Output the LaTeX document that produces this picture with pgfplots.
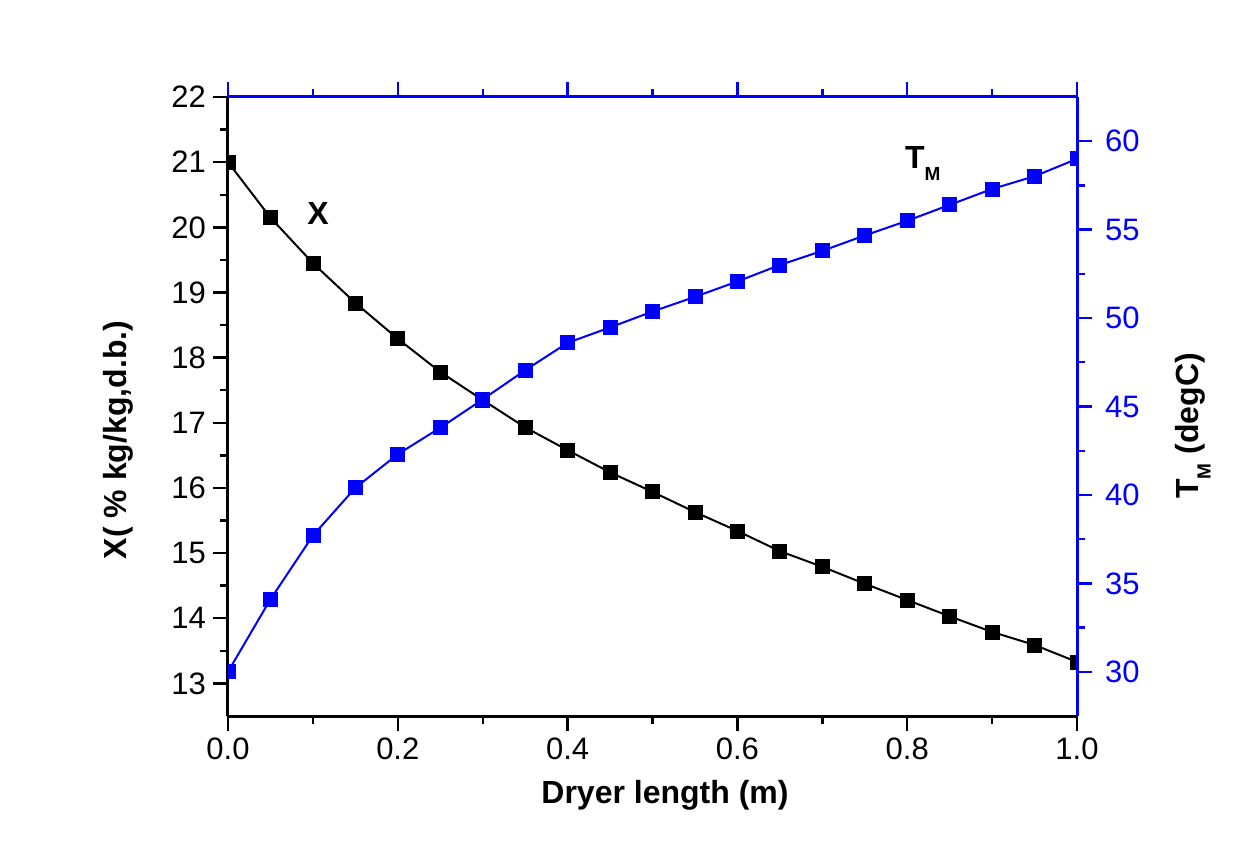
\documentclass[border=0pt]{standalone}
\usepackage{fontspec}
\setmainfont{Liberation Sans}
\usepackage{pgfplots}
\usepackage{pgfplotstable}
\pgfplotsset{compat=1.18}
\definecolor{tblue}{RGB}{0,0,255}

% dryer length (m), moisture X (% kg/kg d.b.), temperature T_M (degC)
\pgfplotstableread{
L     X      T
0.00  21.00  30.00
0.05  20.15  34.10
0.10  19.45  37.70
0.15  18.84  40.40
0.20  18.29  42.30
0.25  17.78  43.80
0.30  17.35  45.40
0.35  16.93  47.05
0.40  16.58  48.60
0.45  16.24  49.47
0.50  15.94  50.37
0.55  15.63  51.20
0.60  15.34  52.07
0.65  15.03  53.00
0.70  14.79  53.80
0.75  14.53  54.67
0.80  14.28  55.50
0.85  14.03  56.40
0.90  13.79  57.30
0.95  13.59  58.02
1.00  13.33  59.00
}\drydata

\newcommand{\sub}[1]{\raisebox{-6pt}{\fontsize{9.5}{11}\selectfont #1}}

\pgfplotsset{
  dryer/.style={
    scale only axis, width=424.5pt, height=309.5pt,
    xmin=0, xmax=1,
    xtick={0,0.2,0.4,0.6,0.8,1}, minor x tick num=1,
    tick align=outside,
    major tick length=7.5pt, minor tick length=4pt,
    axis line style={line width=1.5pt, -},
    ticklabel style={font=\fontsize{15.5}{18}\selectfont},
    /pgf/number format/assume math mode=true,
    label style={font=\bfseries\fontsize{16}{19}\selectfont},
    clip marker paths=true,
  }
}

\begin{document}
\begin{tikzpicture}
\useasboundingbox (-114pt,-70pt) rectangle (508.5pt,358pt);

\begin{axis}[dryer,
  axis x line*=bottom, axis y line*=left,
  ymin=12.5, ymax=22, ytick={13,14,...,22}, minor y tick num=1,
  tick style={line width=1.2pt, black},
  xticklabel style={/pgf/number format/.cd, fixed, fixed zerofill, precision=1},
  xlabel={Dryer length (m)},
  ylabel={X( \% kg/kg,d.b.)},
  xlabel style={at={(axis description cs:0.5147,-0.1276)}, anchor=center},
  ylabel style={at={(axis description cs:-0.1296,0.4459)}, anchor=center},
]
\addplot[black, line width=1pt, mark=square*, mark size=3.5pt,
  mark options={line width=0.4pt}] table[x=L, y=X] {\drydata};
\node[font=\bfseries\fontsize{16}{19}\selectfont, anchor=center]
  at (axis cs:0.106,20.22) {X};
\node[font=\bfseries\fontsize{16}{19}\selectfont, anchor=base west, inner sep=0pt]
  at (axis cs:0.797,20.9) {T\sub{M}};
\end{axis}

\begin{axis}[dryer,
  axis x line*=top, axis y line*=right,
  axis line style={tblue},
  tick style={line width=1.2pt, tblue},
  xticklabels={},
  ymin=27.5, ymax=62.5, ytick={30,35,...,60}, minor y tick num=1,
  yticklabel style={tblue, xshift=3pt},
  ylabel={T\sub{M} (degC)},
  ylabel style={at={(axis description cs:1.1366,0.4685)}, anchor=center, rotate=0},
]
\addplot[tblue, line width=1pt, mark=square*, mark size=3.5pt,
  mark options={line width=0.4pt}] table[x=L, y=T] {\drydata};
\end{axis}
\end{tikzpicture}
\end{document}
